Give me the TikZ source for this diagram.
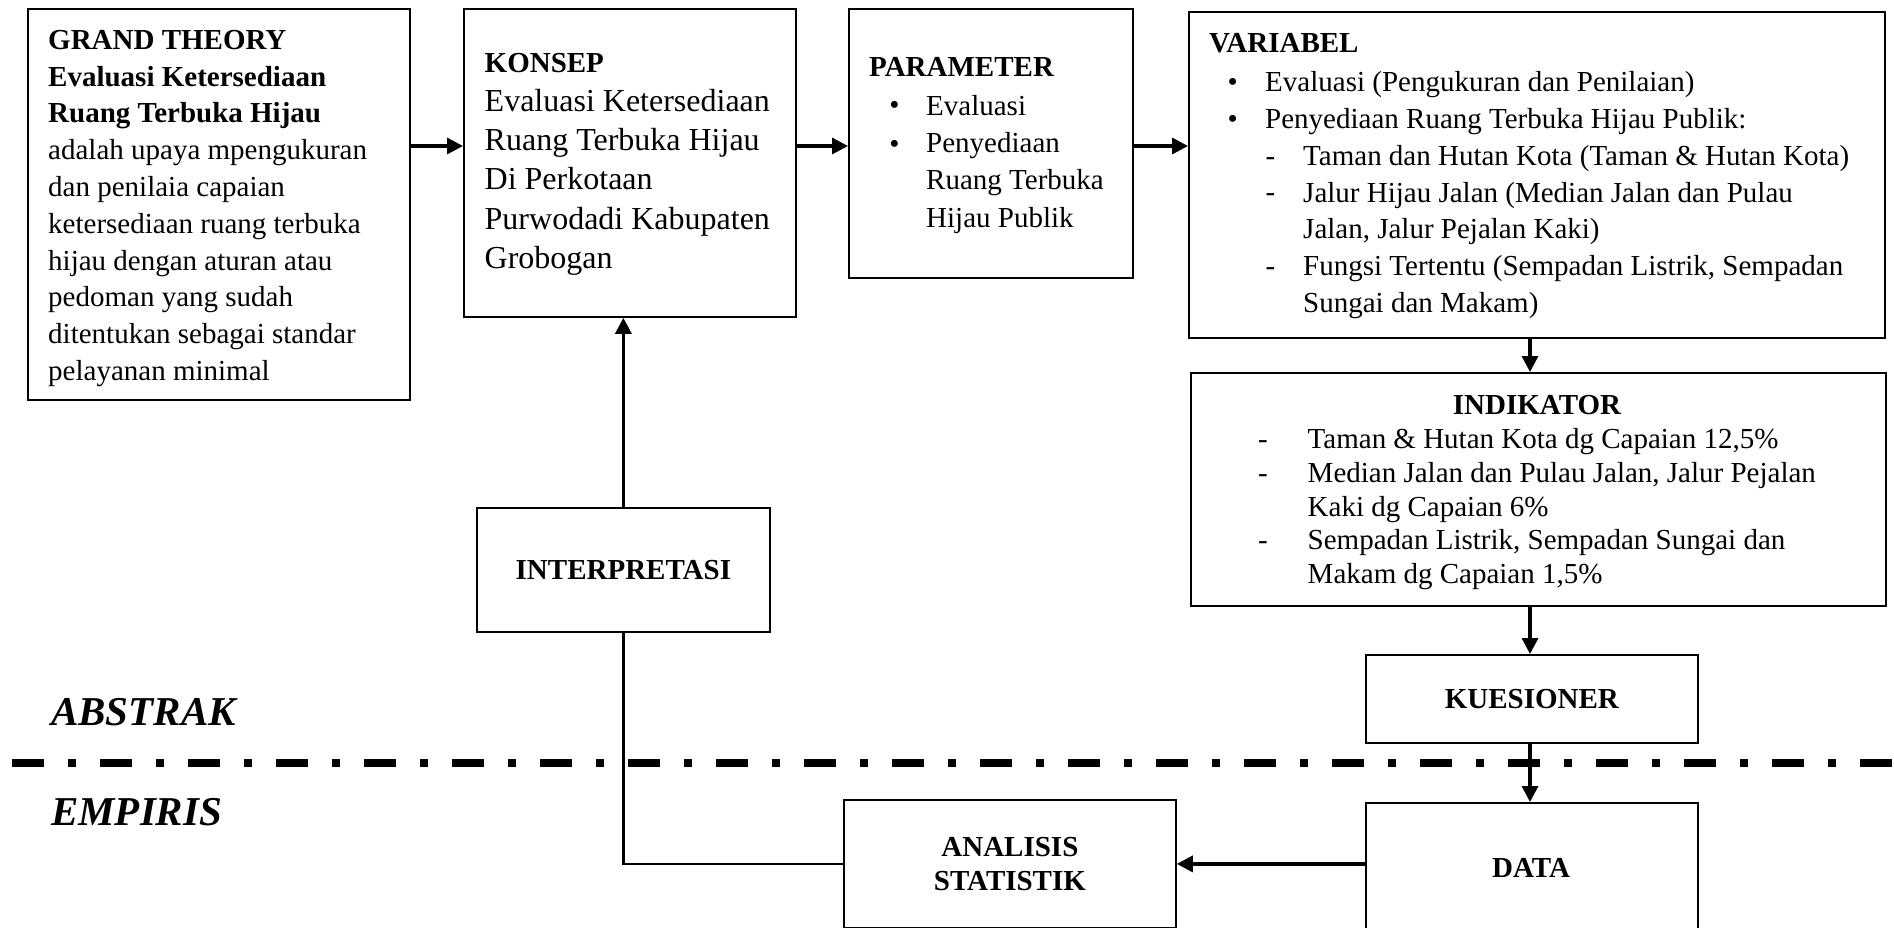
\documentclass[tikz,border=0pt]{standalone}
\usepackage{fontspec}
\setmainfont{Liberation Serif}
\usetikzlibrary{arrows.meta}
\begin{document}
\begin{tikzpicture}[
  x=1pt,y=-1pt,
  box/.style={draw, line width=1.8pt, inner sep=0pt, anchor=north west},
  txt/.style={inner sep=0pt, anchor=north west, align=left},
  lbl/.style={inner sep=0pt, anchor=base west},
  glyph/.style={inner sep=0pt, anchor=base},
  fa/.style={font=\fontsize{29}{36.8}\selectfont},
  boldlbl/.style={font=\fontsize{29}{34}\selectfont\bfseries, align=center},
  arr/.style={line width=3.3pt, -{Triangle[length=16pt,width=16pt]}},
  conn/.style={line width=2.6pt},
  zone/.style={inner sep=0pt, anchor=base west, font=\fontsize{41}{49}\selectfont\bfseries\itshape}
]
\useasboundingbox (0,0) rectangle (1894,928);
\clip (0,0) rectangle (1894,928);
\fill[white] (0,0) rectangle (1894,928);

% boxes
\node[box, minimum width=382pt, minimum height=391pt] (gt) at (27,8) {};
\node[box, minimum width=332pt, minimum height=308pt] (konsep) at (463,8) {};
\node[box, minimum width=284pt, minimum height=269pt] (param) at (848,8) {};
\node[box, minimum width=696pt, minimum height=326pt] (var) at (1188,11) {};
\node[box, minimum width=695pt, minimum height=233pt] (ind) at (1190,372) {};
\node[box, boldlbl, minimum width=293pt, minimum height=124pt] (interp) at (476,507) {INTERPRETASI};
\node[box, boldlbl, minimum width=332pt, minimum height=88pt] (kues) at (1365,654) {KUESIONER};
\node[box, boldlbl, minimum width=332pt, minimum height=128pt] (analisis) at (843,799) {ANALISIS\\STATISTIK};
\node[box, minimum width=332pt, minimum height=138pt] (data) at (1365,802) {};
\node[boldlbl, inner sep=0pt] (dataT) at (1531,868) {DATA};

% grand theory text
\node[txt, fa] (gtT) at (48,23.24) {\strut\textbf{GRAND THEORY}\\
\textbf{Evaluasi Ketersediaan}\\
\textbf{Ruang Terbuka Hijau}\\
adalah upaya mpengukuran\\
dan penilaia capaian\\
ketersediaan ruang terbuka\\
hijau dengan aturan atau\\
pedoman yang sudah\\
ditentukan sebagai standar\\
pelayanan minimal};

% konsep text
\node[lbl, font=\fontsize{29}{36.8}\selectfont\bfseries] (konsepH) at (484.5,72.7) {KONSEP};
\node[txt, font=\fontsize{32}{39.3}\selectfont] (konsepT) at (484.5,83.49) {\strut Evaluasi Ketersediaan\\
Ruang Terbuka Hijau\\
Di Perkotaan\\
Purwodadi Kabupaten\\
Grobogan};

% parameter text
\node[lbl, font=\fontsize{29}{36.8}\selectfont\bfseries] (paramH) at (869,77) {PARAMETER};
\node[glyph, fa] (pb1) at (894.5,115) {•};
\node[glyph, fa] (pb2) at (894.5,153.3) {•};
\node[txt, font=\fontsize{29}{37.3}\selectfont] (paramT) at (926,88.89) {\strut Evaluasi\\
Penyediaan\\
Ruang Terbuka\\
Hijau Publik};

% variabel text
\node[lbl, font=\fontsize{29}{36.8}\selectfont\bfseries] (varH) at (1209,53) {VARIABEL};
\node[glyph, fa] (vb1) at (1232.6,91.7) {•};
\node[glyph, fa] (vb2) at (1232.6,128.4) {•};
\node[txt, font=\fontsize{29}{36.7}\selectfont] (varA) at (1265,66.01) {\strut Evaluasi (Pengukuran dan Penilaian)\\
Penyediaan Ruang Terbuka Hijau Publik:};
\node[glyph, fa] (vd1) at (1270.5,165.1) {-};
\node[glyph, fa] (vd2) at (1270.5,201.8) {-};
\node[glyph, fa] (vd3) at (1270.5,275.2) {-};
\node[txt, font=\fontsize{29}{36.7}\selectfont] (varB) at (1303,139.41) {\strut Taman dan Hutan Kota (Taman \& Hutan Kota)\\
Jalur Hijau Jalan (Median Jalan dan Pulau\\
Jalan, Jalur Pejalan Kaki)\\
Fungsi Tertentu (Sempadan Listrik, Sempadan\\
Sungai dan Makam)};

% indikator text
\node[glyph, font=\fontsize{29}{36.8}\selectfont\bfseries] (indH) at (1537,414) {INDIKATOR};
\node[glyph, fa] (id1) at (1263,448.3) {-};
\node[glyph, fa] (id2) at (1263,482) {-};
\node[glyph, fa] (id3) at (1263,549.5) {-};
\node[txt, font=\fontsize{29}{33.75}\selectfont] (indT) at (1307.5,424.68) {\strut Taman \& Hutan Kota dg Capaian 12,5\%\\
Median Jalan dan Pulau Jalan, Jalur Pejalan\\
Kaki dg Capaian 6\%\\
Sempadan Listrik, Sempadan Sungai dan\\
Makam dg Capaian 1,5\%};

% zone labels
\node[zone] (abs) at (51,725) {ABSTRAK};
\node[zone] (emp) at (51,825) {EMPIRIS};

% divider
\draw[line width=8pt, dash pattern=on 32pt off 24pt on 8pt off 24pt] (12,762.8) -- (1894,762.8);

% connectors
\coordinate (row) at (0,146);
\coordinate (col) at (1530,0);
\draw[arr] (gt.east |- row) -- (konsep.west |- row);
\draw[arr] (konsep.east |- row) -- (param.west |- row);
\draw[arr] (param.east |- row) -- (var.west |- row);
\draw[arr] (var.south -| col) -- (ind.north -| col);
\draw[arr] (ind.south -| col) -- (kues.north -| col);
\draw[arr] (kues.south -| col) -- (data.north -| col);
\draw[arr] (data.west |- analisis.east) -- (analisis.east);
\draw[conn] (analisis.west) -| (interp.south);
\draw[arr] (interp.north) -- (interp.north |- konsep.south);
\end{tikzpicture}
\end{document}
